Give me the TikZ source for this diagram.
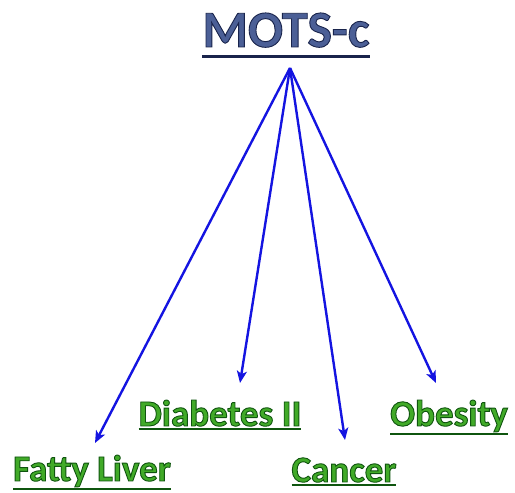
\documentclass[tikz,border=0pt]{standalone}
\usepackage{xcolor}
\usepackage{fontspec}
\setmainfont{Carlito}
\usetikzlibrary{arrows.meta, positioning}

\definecolor{titleblue}{RGB}{75,95,150}
\definecolor{titleedge}{RGB}{25,35,75}
\definecolor{labelgreen}{RGB}{65,170,40}
\definecolor{labeledge}{RGB}{15,85,15}
\definecolor{arrowblue}{RGB}{20,20,225}

% letters filled and stroked with a darker edge (rgb of the edge as first argument)
\newcommand{\edged}[2]{%
    \special{pdf:literal direct #1 RG 2 Tr 0.9 w}#2\special{pdf:literal direct 0 Tr 0.4 w}}
% text with a thick rule below it
\newcommand{\undertext}[4]{%
    \setbox0\hbox{#4}%
    \vtop{\offinterlineskip\copy0\kern#3\hbox{\color{#1}\rule{\wd0}{#2}}}}

\begin{document}
\begin{tikzpicture}[
    x=1pt, y=1pt,
    title/.style={
        anchor=base,
        inner sep=0pt,
        font=\bfseries\fontsize{52}{56}\selectfont,
        text=titleblue
    },
    disease/.style={
        anchor=base,
        inner sep=0pt,
        font=\bfseries\fontsize{37}{40}\selectfont,
        text=labelgreen
    },
    arrow/.style={
        -{Stealth[length=12pt, width=10pt, inset=3pt]},
        draw=arrowblue,
        line width=2.4pt
    }
]

\useasboundingbox (0,0) rectangle (515,493);

\node[title] (mots) at (286,446) {\undertext{titleedge}{3pt}{8pt}{\edged{0.1 0.14 0.3}{MOTS-c}}};
\coordinate (hub) at (290,425);

\node[disease] (liver) at (92,12) {\undertext{labeledge}{2.5pt}{1pt}{\edged{0.06 0.33 0.06}{Fatty Liver}}};
\node[disease] (diab) at (220,67) {\undertext{labeledge}{2.5pt}{1.5pt}{\edged{0.06 0.33 0.06}{Diabetes II}}};
\node[disease] (cancer) at (344,11) {\undertext{labeledge}{2.5pt}{1.5pt}{\edged{0.06 0.33 0.06}{Cancer}}};
\node[disease] (obes) at (449,67) {\undertext{labeledge}{2.5pt}{1pt}{\edged{0.06 0.33 0.06}{Obesity}}};

\draw[arrow] (hub) -- ([xshift=3pt, yshift=38pt]liver.base);
\draw[arrow] (hub) -- ([xshift=20pt, yshift=43pt]diab.base);
\draw[arrow] (hub) -- ([xshift=1pt, yshift=42pt]cancer.base);
\draw[arrow] (hub) -- ([xshift=-13pt, yshift=43pt]obes.base);

\end{tikzpicture}
\end{document}
